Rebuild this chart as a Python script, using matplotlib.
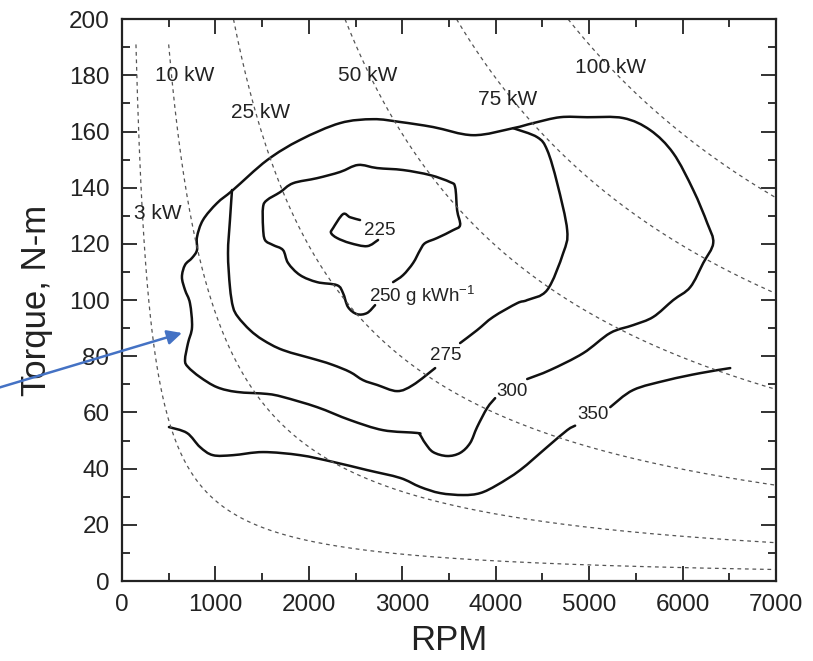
import matplotlib
matplotlib.use("Agg")
import matplotlib.pyplot as plt
from matplotlib.path import Path
from matplotlib.patches import PathPatch
import numpy as np

plt.rcParams["font.family"] = ["Liberation Sans", "DejaVu Sans"]
plt.rcParams["mathtext.default"] = "regular"

# constant-power lines (kW) and the torque where each one starts
power_kw = [3, 10, 25, 50, 75, 100]
power_t_max = [191, 191, 200, 200, 200, 200]
power_labels = ["3 kW", "10 kW", "25 kW", "50 kW", "75 kW", "100 kW"]
power_label_rpm = [385, 675, 1488, 2629, 4123, 5226]
power_label_t = [130.8, 179.9, 166.7, 179.9, 171.4, 182.8]

# BSFC contours, traced as (rpm, torque); each one is broken where its label sits
c300_rpm = [4337, 4583, 4936, 5226, 5472, 5686, 5900, 6082, 6221, 6328, 6264, 6114,
            5900, 5654, 5365, 4979, 4690, 4401, 4187, 3759, 3330, 2977, 2688, 2334,
            1906, 1553, 1189, 1017, 867, 803, 803, 750, 675, 642, 675, 728, 750, 707,
            675, 707, 835, 1017, 1231, 1553, 1724, 2088, 2441, 2795, 3159, 3191, 3245,
            3330, 3480, 3619, 3726, 3801, 3909, 3994]
c300_t = [71.9, 75.1, 81.1, 88.3, 91.1, 94.0, 100.0, 104.6, 113.2, 120.3, 127.4, 139.2,
          152.3, 160.5, 164.8, 165.1, 165.1, 163.0, 161.2, 158.7, 161.6, 163.4, 164.4, 163.0,
          157.0, 149.8, 139.2, 134.5, 128.5, 122.4, 117.8, 115.0, 112.5, 108.2, 103.6, 98.9,
          90.4, 84.7, 78.7, 76.2, 72.6, 69.0, 67.3, 66.6, 65.5, 61.9, 57.3, 53.7, 52.7, 52.0,
          49.1, 45.9, 44.5, 45.6, 49.1, 54.8, 61.6, 65.1]

c275_rpm = [1178, 1156, 1135, 1156, 1189, 1242, 1371, 1510, 1724, 2088, 2259, 2441,
            2581, 2731, 2945, 3116, 3352, np.nan,
            3619, 3801, 3973, 4230, 4337, 4551, 4722, 4765, 4658, 4551, 4444, 4187]
c275_t = [139.2, 128.5, 116.7, 104.6, 97.5, 94.0, 89.3, 85.8, 82.2, 78.7, 76.9, 74.4,
          71.5, 69.8, 67.6, 69.8, 75.8, np.nan,
          84.7, 89.3, 94.0, 98.9, 100.0, 103.6, 116.7, 124.9, 141.6, 153.4, 158.0, 161.2]

c250_rpm = [2709, 2623, 2516, 2420, 2366, 2302, 2088, 1906, 1778, 1724, 1617, 1531,
            1510, 1510, 1553, 1692, 1831, 2088, 2334, 2527, 2731, 3009, 3298, 3512,
            3566, 3587, 3619, 3544, 3373, 3245, 3191, 3116, 3009, 2902]
c250_t = [98.2, 95.4, 95.0, 97.5, 102.5, 105.3, 106.4, 108.9, 113.2, 117.8, 119.6, 121.4,
          126.0, 133.1, 135.6, 138.4, 141.6, 143.4, 145.6, 148.1, 147.0, 146.3, 144.5, 142.0,
          140.2, 132.0, 126.7, 124.9, 122.1, 120.3, 117.8, 113.2, 108.9, 106.4]

c225_rpm = [2548, 2441, 2366, 2259, 2238, 2302, 2441, 2623, 2741]
c225_t = [128.5, 129.5, 130.6, 125.6, 123.9, 122.1, 120.3, 119.2, 121.4]

c350_rpm = [503, 696, 835, 974, 1189, 1510, 1906, 2259, 2623, 2977, 3191, 3405, 3651,
            3834, 4016, 4262, 4551, 4765, 4850, np.nan, 5226, 5472, 5836, 6189, 6510]
c350_t = [54.8, 52.7, 47.7, 44.8, 44.8, 45.9, 44.8, 42.4, 39.5, 36.7, 33.5, 31.3, 30.6,
          31.3, 34.2, 39.5, 47.7, 53.7, 55.3, np.nan, 61.9, 68.0, 71.5, 74.0, 75.8]

contour_labels = ["225", "250 g kWh$^{-1}$", "275", "300", "350"]
contour_label_rpm = [2763, 2640, 3470, 4176, 5044]
contour_label_t = [124.9, 101.5, 80.3, 67.3, 59.1]


def smooth_path(xs, ys):
    # Catmull-Rom through the traced points, written as cubic Bezier segments
    pts = np.column_stack([xs, ys]).astype(float)
    verts, codes = [], []
    breaks = np.where(np.isnan(pts[:, 0]))[0]
    for piece in np.split(pts, breaks):
        piece = piece[~np.isnan(piece[:, 0])]
        p = np.vstack([piece[0], piece, piece[-1]])
        verts.append(piece[0])
        codes.append(Path.MOVETO)
        for i in range(1, len(p) - 2):
            c1 = p[i] + (p[i + 1] - p[i - 1]) / 6
            c2 = p[i + 1] - (p[i + 2] - p[i]) / 6
            verts += [c1, c2, p[i + 1]]
            codes += [Path.CURVE4] * 3
    return Path(verts, codes)


fig = plt.figure(figsize=(8.13, 6.61), dpi=100)
ax = fig.add_axes([0.150, 0.121, 0.8045, 0.850])

# constant power hyperbolas: T = P / omega
for p, tmax in zip(power_kw, power_t_max):
    rpm = np.linspace(9549.3 * p / tmax, 7000, 400)
    ax.plot(rpm, 9549.3 * p / rpm, color="#555555", lw=0.9, ls=(0, (3, 3)))

for lab, x, y in zip(power_labels, power_label_rpm, power_label_t):
    ax.text(x, y, lab, ha="center", va="center", fontsize=15, color="#222222")

for xs, ys in [(c300_rpm, c300_t), (c275_rpm, c275_t), (c250_rpm, c250_t),
               (c225_rpm, c225_t), (c350_rpm, c350_t)]:
    ax.add_patch(PathPatch(smooth_path(xs, ys), fill=False, ec="#111111", lw=1.8,
                           capstyle="round", joinstyle="round"))

for i, (lab, x, y) in enumerate(zip(contour_labels, contour_label_rpm, contour_label_t)):
    ax.text(x, y, lab, ha="left" if i == 1 else "center", va="center",
            fontsize=13.5, color="#222222")

# arrow pointing at the 300 contour
ax.annotate("", xy=(642, 88.3), xytext=(-1400, 68.0), annotation_clip=False,
            arrowprops=dict(arrowstyle="-|>", color="#4472C4", lw=1.8,
                            mutation_scale=22, shrinkA=0, shrinkB=0))

ax.set_xlim(0, 7000)
ax.set_ylim(0, 200)
ax.set_xticks(np.arange(0, 7001, 1000))
ax.set_xticks(np.arange(500, 7000, 1000), minor=True)
ax.set_yticks(np.arange(0, 201, 20))
ax.set_yticks(np.arange(10, 200, 20), minor=True)
ax.tick_params(which="both", direction="in", top=True, right=True, width=1.3,
               labelsize=17.5, pad=9, colors="#222222")
ax.tick_params(which="major", length=11)
ax.tick_params(which="minor", length=6)
for s in ax.spines.values():
    s.set_linewidth(1.6)
    s.set_color("#222222")

ax.set_xlabel("RPM", fontsize=25, color="#222222", labelpad=6)
ax.set_ylabel("Torque, N-m", fontsize=25, color="#222222", labelpad=11)

fig.savefig("out.png", dpi=100)
